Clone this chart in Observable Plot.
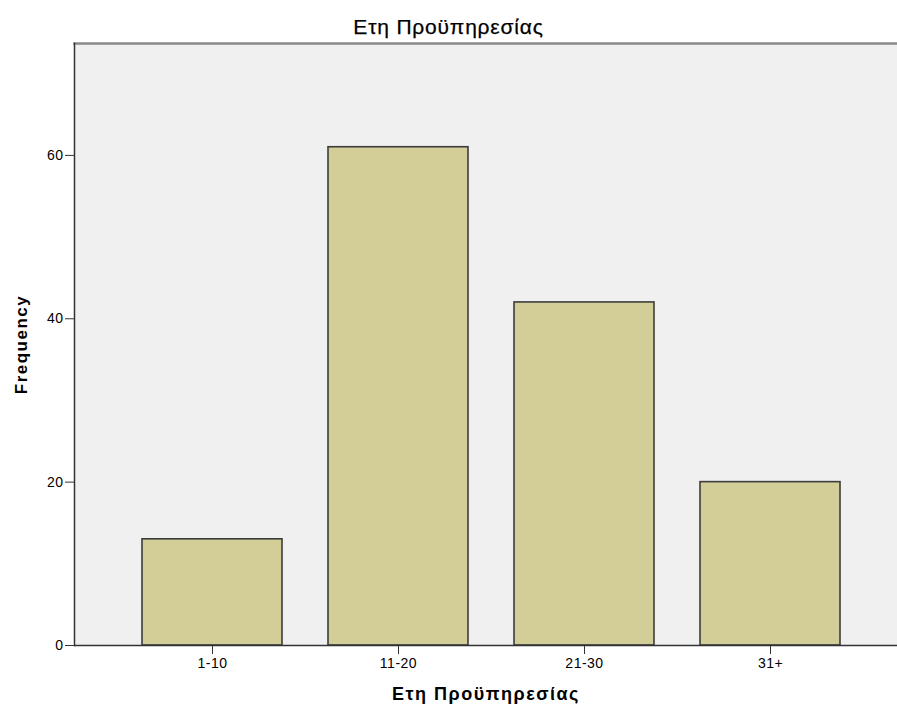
<!DOCTYPE html>
<html>
<head>
<meta charset="utf-8">
<script src="https://cdn.jsdelivr.net/npm/d3@7"></script>
<script src="https://cdn.jsdelivr.net/npm/@observablehq/plot@0.6"></script>
<style>
  body { margin: 0; background: #fff; font-family: "Liberation Sans", Arial, sans-serif; }
  #wrap { position: relative; width: 897px; height: 713px; }
  #title { position: absolute; top: 16px; left: 0; width: 897px; text-align: center;
           font-family: "Liberation Sans", Arial, sans-serif; line-height: 1;
           font-size: 21px; letter-spacing: 0.8px; color: #000; -webkit-text-stroke: 0.25px #000; }
  svg { font-family: "Liberation Sans", Arial, sans-serif; }
  g[aria-label="x-axis label"] text { font-weight: bold; font-size: 18px; letter-spacing: 1.5px; }
  g[aria-label="y-axis label"] text { font-weight: bold; font-size: 17px; letter-spacing: 1.5px; }
  g[aria-label="x-axis tick label"] text, g[aria-label="y-axis tick label"] text { letter-spacing: 0.5px; }
</style>
</head>
<body>
<div id="wrap"><div id="title"></div><div id="chart"></div></div>
<script>
const titleText = "Ετη Προϋπηρεσίας";
const xLabel = "Ετη Προϋπηρεσίας";
const yLabel = "Frequency";
const categories = ["1-10", "11-20", "21-30", "31+"];
const frequencies = [13, 61, 42, 20];
const yTicks = [0, 20, 40, 60];
const yMax = 73.7;

const data = categories.map((c, i) => ({cat: c, freq: frequencies[i]}));
document.getElementById("title").textContent = titleText;

const chart = Plot.plot({
  width: 897,
  height: 713,
  marginTop: 43,
  marginBottom: 68,
  marginLeft: 74,
  marginRight: 0,
  style: {fontSize: "14px", color: "#000", background: "transparent"},
  x: {domain: categories, insetLeft: 66, insetRight: 56, paddingInner: 0.25, paddingOuter: 0,
      label: xLabel, labelAnchor: "center", labelOffset: 54, labelArrow: "none", tickSize: 9},
  y: {domain: [0, yMax], ticks: yTicks, label: yLabel, labelAnchor: "center", labelOffset: 60,
      labelArrow: "none", tickSize: 9},
  marks: [
    Plot.frame({fill: "#f0f0f0", stroke: null}),
    Plot.barY(data, {x: "cat", y: "freq", fill: "#d3ce98", stroke: "#3c3c3c", strokeWidth: 1.6}),
    Plot.frame({anchor: "top", stroke: "#8a8a8a", strokeWidth: 2.5}),
    Plot.frame({anchor: "left", stroke: "#333", strokeWidth: 1.5}),
    Plot.ruleY([0], {stroke: "#333", strokeWidth: 1.5}),
    Plot.axisY({ticks: yTicks, tickSize: 9, tickPadding: 2, stroke: "#333", label: yLabel, labelAnchor: "center", labelOffset: 60, labelArrow: "none"}),
    Plot.axisX({tickSize: 9, stroke: "#333", tickPadding: 4, label: xLabel, labelAnchor: "center", labelOffset: 54, labelArrow: "none"})
  ]
});
document.getElementById("chart").appendChild(chart);
</script>
</body>
</html>
